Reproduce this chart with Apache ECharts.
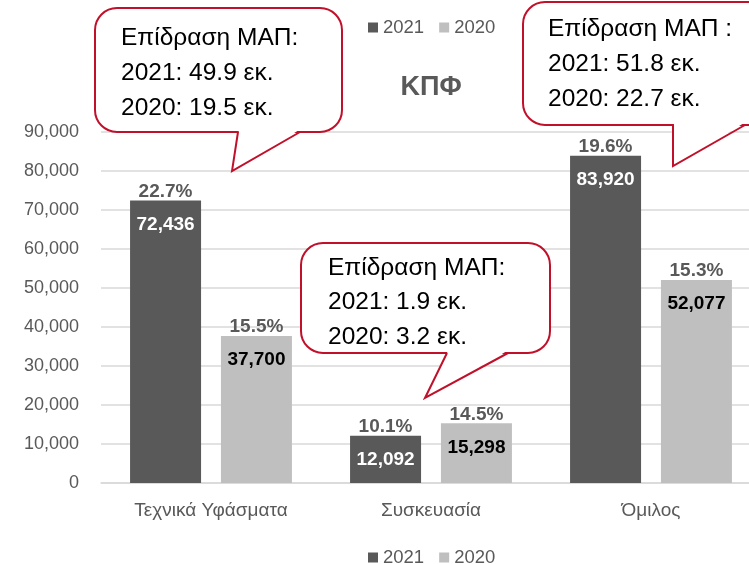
<!DOCTYPE html>
<html>
<head>
<meta charset="utf-8">
<script src="https://cdn.jsdelivr.net/npm/echarts@6/dist/echarts.min.js"></script>
<style>
  html, body { margin: 0; padding: 0; background: #fff; overflow: hidden; }
  #main { width: 780px; height: 564px; }
</style>
</head>
<body>
<div id="main"></div>
<script>
// data
var categories = ['Τεχνικά Υφάσματα', 'Συσκευασία', 'Όμιλος'];
var values2021 = [72436, 12092, 83920];
var values2020 = [37700, 15298, 52077];
var pct2021 = ['22.7%', '10.1%', '19.6%'];
var pct2020 = ['15.5%', '14.5%', '15.3%'];
var yTicks = [0, 10000, 20000, 30000, 40000, 50000, 60000, 70000, 80000, 90000];
var calloutTexts = [
    ['Επίδραση ΜΑΠ:', '2021: 49.9 εκ.', '2020: 19.5 εκ.'],
    ['Επίδραση ΜΑΠ:', '2021: 1.9 εκ.', '2020: 3.2 εκ.'],
    ['Επίδραση ΜΑΠ :', '2021: 51.8 εκ.', '2020: 22.7 εκ.']
];

var FONT = 'Liberation Sans';
var GRAY = '#595959';
var RED = '#C0102A';

function fmt(v) {
    return v.toLocaleString('en-US');
}

// callout boxes: rect + tail on the bottom edge
var boxes = [
    { x: 95, y: 8, w: 247, h: 124, tail: [238, 300, 232, 171], tx: 121, ty: [38, 73, 108] },
    { x: 301, y: 243, w: 249, h: 110, tail: [447, 508, 425, 398], tx: 328, ty: [268, 302, 337] },
    { x: 523, y: 2, w: 262, h: 123, tail: [673, 745, 673, 166], tx: 548, ty: [29, 64, 99] }
];

var graphics = [];
boxes.forEach(function (b, i) {
    var bottom = b.y + b.h;
    var t = b.tail;
    graphics.push({
        type: 'rect',
        z: 100,
        shape: { x: b.x, y: b.y, width: b.w, height: b.h, r: 22 },
        style: { fill: '#fff', stroke: RED, lineWidth: 2 }
    });
    graphics.push({
        type: 'polygon',
        z: 101,
        shape: { points: [[t[0] + 1, bottom - 2], [t[2], t[3]], [t[1] - 1, bottom - 2]] },
        style: { fill: '#fff' }
    });
    graphics.push({
        type: 'polyline',
        z: 102,
        shape: { points: [[t[0], bottom], [t[2], t[3]], [t[1], bottom]] },
        style: { fill: null, stroke: RED, lineWidth: 2 }
    });
    calloutTexts[i].forEach(function (txt, j) {
        graphics.push({
            type: 'text',
            z: 103,
            x: b.tx,
            y: b.ty[j],
            style: {
                text: txt,
                fill: '#000',
                font: '24.5px "' + FONT + '"',
                verticalAlign: 'middle'
            }
        });
    });
});

function makeLabel(pcts, valueColor) {
    return {
        show: true,
        position: 'insideTop',
        distance: 0,
        offset: [0, -21],
        formatter: function (p) {
            return '{p|' + pcts[p.dataIndex] + '}\n{v|' + fmt(p.value) + '}';
        },
        rich: {
            p: { fontFamily: FONT, fontSize: 19, fontWeight: 'bold', color: GRAY, lineHeight: 24 },
            v: { fontFamily: FONT, fontSize: 19, fontWeight: 'bold', color: valueColor, lineHeight: 42 }
        }
    };
}

function makeLegend(top) {
    return {
        left: 363,
        top: top,
        data: ['2021', '2020'],
        icon: 'rect',
        itemWidth: 10,
        itemHeight: 10,
        itemGap: 15,
        textStyle: { fontFamily: FONT, fontSize: 18.5, color: GRAY }
    };
}

var myChart = echarts.init(document.getElementById('main'));
var option = {
    animation: false,
    backgroundColor: '#fff',
    title: {
        text: 'ΚΠΦ',
        left: 426,
        top: 69,
        textAlign: 'center',
        textStyle: { fontFamily: FONT, fontSize: 27, fontWeight: 'bold', color: GRAY }
    },
    legend: [makeLegend(13), makeLegend(543)],
    grid: { left: 101, top: 132, width: 660, bottom: 81, containLabel: false },
    xAxis: {
        type: 'category',
        data: categories,
        axisTick: { show: false },
        axisLine: { lineStyle: { color: '#D9D9D9', width: 1.5 } },
        axisLabel: { fontFamily: FONT, fontSize: 19, color: GRAY, margin: 18 }
    },
    yAxis: {
        type: 'value',
        min: yTicks[0],
        max: yTicks[yTicks.length - 1],
        interval: yTicks[1] - yTicks[0],
        axisLine: { show: false },
        axisTick: { show: false },
        splitLine: { lineStyle: { color: '#D9D9D9', width: 1.5 } },
        axisLabel: { fontFamily: FONT, fontSize: 18, color: GRAY, margin: 22, formatter: fmt }
    },
    series: [
        {
            name: '2021',
            type: 'bar',
            barWidth: 71,
            barGap: '28%',
            itemStyle: { color: '#595959' },
            label: makeLabel(pct2021, '#fff'),
            data: values2021
        },
        {
            name: '2020',
            type: 'bar',
            barWidth: 71,
            barGap: '28%',
            itemStyle: { color: '#BFBFBF' },
            label: makeLabel(pct2020, '#000'),
            data: values2020
        }
    ],
    graphic: graphics
};
myChart.setOption(option);
</script>
</body>
</html>
